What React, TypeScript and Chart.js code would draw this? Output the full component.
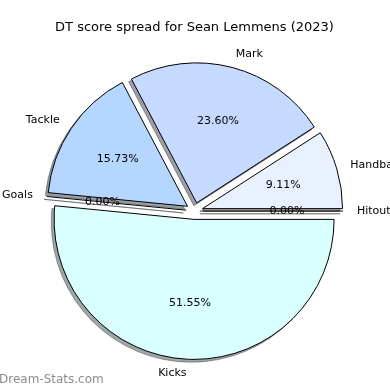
import React, { useEffect, useRef } from 'react';
import { Chart, registerables } from 'chart.js';

Chart.register(...registerables);

// Data (Chart.js order: clockwise from 3 o'clock, i.e. reversed matplotlib order)
const TITLE = 'DT score spread for Sean Lemmens (2023)';
const categories = ['Kicks', 'Goals', 'Tackle', 'Mark', 'Handball', 'Hitout'];
const shares = [51.55, 0.0, 15.73, 23.6, 9.11, 0.0];
const colors = ['#d9ffff', '#cfe3ff', '#b4d6ff', '#c6d9ff', '#e9f1ff', '#f0f8ff'];
const WATERMARK = 'Dream-Stats.com';

const FONT = "'DejaVu Sans', sans-serif";
const EXPLODE = 0.06;
const SHADOW = 0.02;

function hexToRgb(hex: string): number[] {
  const h = hex.replace('#', '');
  return [0, 2, 4].map((i) => parseInt(h.slice(i, i + 2), 16));
}

function geometry(chart: any) {
  const meta = chart.getDatasetMeta(0);
  return meta.data.map((a: any) => {
    const p = a.getProps(['x', 'y', 'startAngle', 'endAngle', 'outerRadius'], true);
    const mid = (p.startAngle + p.endAngle) / 2;
    const d = p.outerRadius * EXPLODE;
    return { ...p, mid, cx: p.x + Math.cos(mid) * d, cy: p.y + Math.sin(mid) * d };
  });
}

const mplPie = {
  id: 'mplPie',
  beforeDatasetDraw(chart: any, args: any) {
    const ctx = chart.ctx as CanvasRenderingContext2D;
    const arcs = args.meta.data;
    const geo = geometry(chart);
    // shadows first
    geo.forEach((g: any, i: number) => {
      const s = g.outerRadius * SHADOW;
      const [r, gg, b] = hexToRgb(colors[i]);
      const col = `rgba(${Math.round(r * 0.3)},${Math.round(gg * 0.3)},${Math.round(b * 0.3)},0.5)`;
      const ox = g.cx - s;
      const oy = g.cy + s;
      ctx.save();
      ctx.beginPath();
      ctx.moveTo(ox, oy);
      ctx.arc(ox, oy, g.outerRadius, g.startAngle, g.endAngle);
      ctx.closePath();
      ctx.fillStyle = col;
      ctx.strokeStyle = col;
      ctx.lineWidth = 1;
      if (g.endAngle - g.startAngle > 0) ctx.fill();
      ctx.stroke();
      ctx.restore();
    });
    // wedges in matplotlib order
    for (let i = arcs.length - 1; i >= 0; i--) {
      const g = geo[i];
      ctx.save();
      if (g.endAngle - g.startAngle > 1e-6) {
        ctx.translate(g.cx - g.x, g.cy - g.y);
        arcs[i].draw(ctx);
      } else {
        ctx.beginPath();
        ctx.moveTo(g.cx, g.cy);
        ctx.lineTo(g.cx + Math.cos(g.startAngle) * g.outerRadius, g.cy + Math.sin(g.startAngle) * g.outerRadius);
        ctx.strokeStyle = '#000';
        ctx.lineWidth = 1;
        ctx.stroke();
      }
      ctx.restore();
    }
    return false;
  },
  afterDatasetsDraw(chart: any) {
    const ctx = chart.ctx as CanvasRenderingContext2D;
    const geo = geometry(chart);
    ctx.save();
    ctx.fillStyle = '#000';
    ctx.font = `11px ${FONT}`;
    ctx.textBaseline = 'middle';
    for (let i = geo.length - 1; i >= 0; i--) {
      const g = geo[i];
      const R = g.outerRadius;
      const c = Math.cos(g.mid);
      const s = Math.sin(g.mid);
      ctx.textAlign = c > 0 ? 'left' : 'right';
      ctx.fillText(categories[i], g.cx + c * R * 1.1, g.cy + s * R * 1.1);
      ctx.textAlign = 'center';
      ctx.fillText(shares[i].toFixed(2) + '%', g.cx + c * R * 0.6, g.cy + s * R * 0.6);
    }
    ctx.restore();
  },
  afterDraw(chart: any) {
    const ctx = chart.ctx as CanvasRenderingContext2D;
    ctx.save();
    ctx.fillStyle = '#8c8c8c';
    ctx.font = `12px ${FONT}`;
    ctx.textAlign = 'left';
    ctx.textBaseline = 'middle';
    ctx.fillText(WATERMARK, -1, 380);
    ctx.restore();
  },
};

export default function App() {
  const ref = useRef<HTMLCanvasElement | null>(null);
  useEffect(() => {
    if (!ref.current) return;
    const chart = new Chart(ref.current, {
      type: 'pie',
      data: {
        labels: categories,
        datasets: [
          {
            data: shares,
            backgroundColor: colors,
            borderColor: '#000',
            borderWidth: 1,
            borderAlign: 'center',
            borderJoinStyle: 'miter',
            hoverOffset: 0,
          } as any,
        ],
      },
      options: {
        responsive: false,
        animation: false,
        devicePixelRatio: 1,
        events: [],
        rotation: 90,
        radius: 140,
        layout: { padding: { left: 0, right: 1, top: 0, bottom: 3.6 } },
        plugins: {
          legend: { display: false },
          tooltip: { enabled: false },
          title: {
            display: true,
            text: TITLE,
            color: '#000',
            font: { family: FONT, size: 13, weight: 'normal' },
            padding: { top: 20, bottom: 0 },
          },
        },
      } as any,
      plugins: [mplPie],
    });
    return () => chart.destroy();
  }, []);
  return (
    <div style={{ position: 'absolute', left: 0, top: 0, width: 390, height: 390, background: '#fff' }}>
      <canvas ref={ref} width={390} height={390} />
    </div>
  );
}
